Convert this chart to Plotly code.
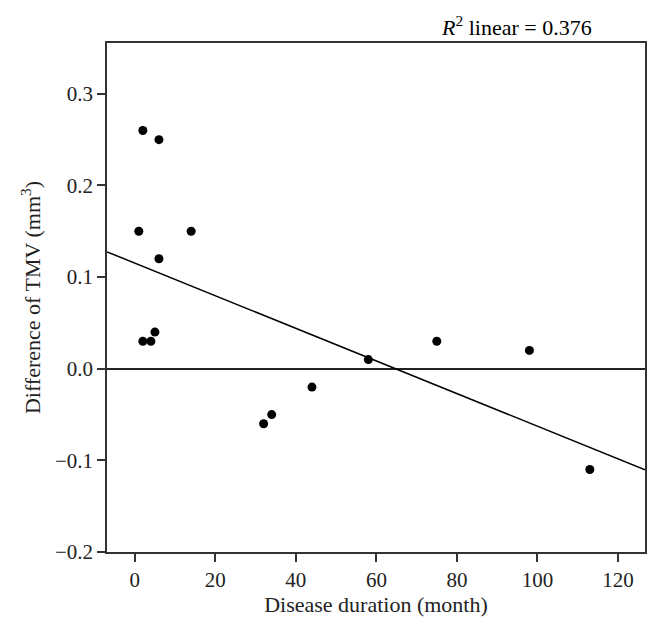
import numpy as np
import plotly.graph_objects as go

duration = [1, 2, 6, 14, 6, 2, 4, 5, 32, 34, 44, 58, 75, 98, 113]
tmv_diff = [0.15, 0.26, 0.25, 0.15, 0.12, 0.03, 0.03, 0.04, -0.06, -0.05, -0.02, 0.01, 0.03, 0.02, -0.11]
x_ticks = [0, 20, 40, 60, 80, 100, 120]
y_ticks = [-0.2, -0.1, 0.0, 0.1, 0.2, 0.3]
r2_text = "0.376"

x_range = [-6.9, 126.7]
y_range = [-0.2, 0.3555]

slope, intercept = np.polyfit(duration, tmv_diff, 1)
line_x = np.array(x_range)
line_y = slope * line_x + intercept

font = "Liberation Serif, Times New Roman, serif"

fig = go.Figure()
fig.add_trace(go.Scatter(x=line_x, y=line_y, mode="lines",
                         line=dict(color="black", width=1.5), showlegend=False, hoverinfo="skip"))
fig.add_trace(go.Scatter(x=duration, y=tmv_diff, mode="markers",
                         marker=dict(color="black", size=9), showlegend=False))

fig.add_annotation(text="<i>R</i><sup>2</sup> linear = " + r2_text,
                   xref="paper", yref="paper", x=0.905, y=1, xanchor="right", yanchor="bottom",
                   yshift=1, showarrow=False, font=dict(family=font, size=22, color="black"))

axis_common = dict(showgrid=False, showline=True, linecolor="#333", linewidth=1.5, mirror=True,
                   ticks="outside", ticklen=8, tickwidth=1.5, tickcolor="#333",
                   tickfont=dict(family=font, size=21, color="#222"),
                   title_font=dict(family=font, size=22, color="#222"))

fig.update_xaxes(range=x_range, tickvals=x_ticks, zeroline=False,
                 title_text="Disease duration (month)", title_standoff=5, **axis_common)
fig.update_yaxes(range=y_range, tickvals=y_ticks, tickformat=".1f",
                 zeroline=True, zerolinecolor="#222", zerolinewidth=1.5,
                 title_text="Difference of TMV (mm<sup>3</sup>)", title_standoff=8, **axis_common)

# page body has an 8px margin, so the figure is sized to fit inside the window
fig.update_layout(width=646, height=614, plot_bgcolor="white", paper_bgcolor="white",
                  margin=dict(l=99, r=7, t=35, b=70))

fig.write_html("out.html")
